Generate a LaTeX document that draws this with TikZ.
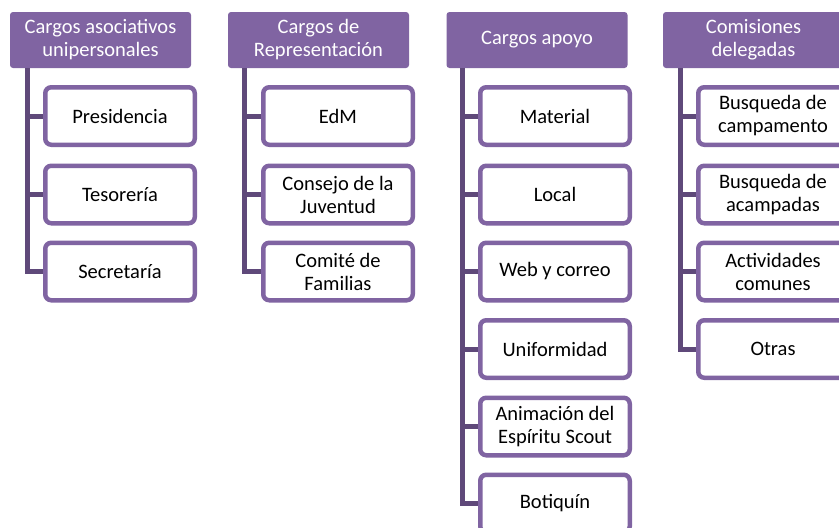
\documentclass[tikz,border=0pt]{standalone}
\usepackage{fontspec}
\setmainfont{Carlito}
\definecolor{hdr}{HTML}{8064A2}
\definecolor{conn}{HTML}{5F497A}
\begin{document}
\begin{tikzpicture}[x=1pt,y=-1pt,
  hdrbox/.style={fill=hdr, text=white, rounded corners=3pt, minimum width=181pt, minimum height=56pt, align=center, inner sep=0pt, font=\fontsize{20.5}{23}\selectfont},
  item/.style={draw=hdr, line width=4.5pt, fill=white, rounded corners=6pt, minimum width=149.5pt, minimum height=57.5pt, align=center, inner sep=0pt, font=\fontsize{20.5}{23}\selectfont},
  link/.style={draw=conn, line width=5pt}]
\useasboundingbox (0,0) rectangle (839,528);
\clip (0,0) rectangle (839,528);
% column 1
\node[hdrbox] (h1) at (100.5,40) {Cargos asociativos\\unipersonales};
\node[item] (a1) at (120,116) {Presidencia};
\node[item] (a2) at (120,194.5) {Tesorería};
\node[item] (a3) at (120,271.5) {Secretaría};
\coordinate (t1) at (27,68);
\draw[link] (t1) |- (a1.west);
\draw[link] (t1) |- (a2.west);
\draw[link] (t1) |- (a3.west);
% column 2
\node[hdrbox] (h2) at (318.5,40) {Cargos de\\Representación};
\node[item] (b1) at (338,116) {EdM};
\node[item] (b2) at (338,194.5) {Consejo de la\\Juventud};
\node[item] (b3) at (338,271.5) {Comité de\\Familias};
\coordinate (t2) at (244,68);
\draw[link] (t2) |- (b1.west);
\draw[link] (t2) |- (b2.west);
\draw[link] (t2) |- (b3.west);
% column 3
\node[hdrbox] (h3) at (537,40) {Cargos apoyo};
\node[item] (c1) at (555,116) {Material};
\node[item] (c2) at (555,194.5) {Local};
\node[item] (c3) at (555,271.5) {Web y correo};
\node[item] (c4) at (555,349) {Uniformidad};
\node[item] (c5) at (555,426.5) {Animación del\\Espíritu Scout};
\node[item] (c6) at (555,503.5) {Botiquín};
\coordinate (t3) at (462,68);
\draw[link] (t3) |- (c1.west);
\draw[link] (t3) |- (c2.west);
\draw[link] (t3) |- (c3.west);
\draw[link] (t3) |- (c4.west);
\draw[link] (t3) |- (c5.west);
\draw[link] (t3) |- (c6.west);
% column 4
\node[hdrbox] (h4) at (753.5,40) {Comisiones\\delegadas};
\node[item] (d1) at (773,116) {Busqueda de\\campamento};
\node[item] (d2) at (773,194.5) {Busqueda de\\acampadas};
\node[item] (d3) at (773,271.5) {Actividades\\comunes};
\node[item] (d4) at (773,349) {Otras};
\coordinate (t4) at (680,68);
\draw[link] (t4) |- (d1.west);
\draw[link] (t4) |- (d2.west);
\draw[link] (t4) |- (d3.west);
\draw[link] (t4) |- (d4.west);
\end{tikzpicture}
\end{document}
